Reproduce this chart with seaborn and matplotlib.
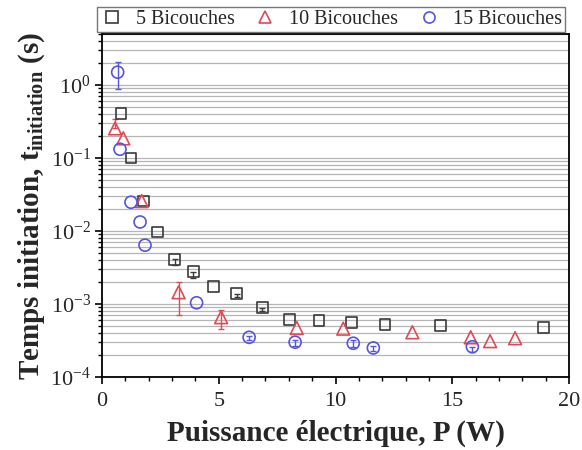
import numpy as np
import matplotlib
matplotlib.use("Agg")
import matplotlib.pyplot as plt
import seaborn as sns
from matplotlib.lines import Line2D
from matplotlib.ticker import LogLocator, MultipleLocator, NullFormatter

# 5 Bicouches
p5 = [0.81, 1.24, 1.77, 2.38, 3.11, 3.91, 4.78, 5.77, 6.87, 8.02, 9.29, 10.69, 12.12, 14.48, 18.9]
t5 = [0.41, 0.10, 0.0257, 0.0097, 0.0041, 0.00276, 0.00174, 0.00138, 0.00089, 0.00062,
      0.00059, 0.00056, 0.00053, 0.00051, 0.00048]
t5_lo = [0.0, 0.0, 0.0, 0.0, 0.0007, 0.0005, 0.0, 0.00012, 0.00008, 0.0, 0.0, 0.0, 0.0, 0.0, 0.0]
t5_hi = [0.0, 0.0, 0.0, 0.0, 0.0, 0.0, 0.0, 0.0, 0.0, 0.0, 0.0, 0.0, 0.0, 0.0, 0.0]

# 10 Bicouches
p10 = [0.56, 0.91, 1.70, 3.28, 5.10, 8.34, 10.33, 13.29, 15.79, 16.62, 17.69]
t10 = [0.255, 0.186, 0.0257, 0.00145, 0.00066, 0.00047, 0.00046, 0.00041, 0.00035, 0.00031, 0.00034]
t10_lo = [0.0, 0.0, 0.0, 0.00075, 0.0002, 0.0, 0.0, 0.0, 0.0, 0.0, 0.0]
t10_hi = [0.085, 0.0, 0.0, 0.00057, 0.00017, 0.0, 0.0, 0.0, 0.0, 0.0, 0.0]

# 15 Bicouches
p15 = [0.67, 0.77, 1.24, 1.63, 1.84, 4.05, 6.30, 8.27, 10.76, 11.62, 15.86]
t15 = [1.5, 0.132, 0.0248, 0.0133, 0.0064, 0.00104, 0.00035, 0.00030, 0.00029, 0.00025, 0.00026]
t15_lo = [0.63, 0.0, 0.0, 0.0, 0.0, 0.0, 0.00003, 0.00003, 0.00003, 0.00002, 0.00004]
t15_hi = [0.6, 0.0, 0.0, 0.0, 0.0, 0.0, 0.00002, 0.00002, 0.00003, 0.00002, 0.0]

labels = ["5 Bicouches", "10 Bicouches", "15 Bicouches"]
colors = ["#3a3a3a", "#e04a55", "#5555dd"]
markers = ["s", "^", "o"]
sizes = [60, 85, 75]

sns.set_theme(style="white")
plt.rcParams["font.family"] = ["Liberation Serif", "DejaVu Serif"]
plt.rcParams["mathtext.fontset"] = "custom"
plt.rcParams["mathtext.rm"] = "Liberation Serif"
plt.rcParams["mathtext.it"] = "Liberation Serif:italic"
plt.rcParams["mathtext.bf"] = "Liberation Serif:bold"

fig = plt.figure(figsize=(5.82, 4.5), dpi=100)
ax = fig.add_axes([0.1753, 0.1622, 0.8024, 0.7622])

series = [(p5, t5, t5_lo, t5_hi), (p10, t10, t10_lo, t10_hi), (p15, t15, t15_lo, t15_hi)]
for (px, ty, lo, hi), lab, c, m, s in zip(series, labels, colors, markers, sizes):
    px_a, ty_a, lo_a, hi_a = map(np.asarray, (px, ty, lo, hi))
    # only points that actually have an error bar
    keep = (lo_a > 0) | (hi_a > 0)
    ax.errorbar(px_a[keep], ty_a[keep], yerr=[lo_a[keep], hi_a[keep]], fmt="none",
                ecolor=c, elinewidth=1.0, capsize=2.5, capthick=1.0, zorder=3)
    sns.scatterplot(x=px, y=ty, marker=m, s=s, color=c, ax=ax, zorder=4)
    coll = ax.collections[-1]
    coll.set_facecolor("none")
    coll.set_edgecolor(c)
    coll.set_linewidth(1.2)

ax.set_yscale("log")
ax.set_xlim(0, 20)
ax.set_ylim(1e-4, 5)
ax.xaxis.set_major_locator(MultipleLocator(5))
ax.xaxis.set_minor_locator(MultipleLocator(1))
ax.yaxis.set_major_locator(LogLocator(base=10))
ax.yaxis.set_minor_locator(LogLocator(base=10, subs=np.arange(2, 10)))
ax.yaxis.set_minor_formatter(NullFormatter())

ax.grid(True, which="both", axis="y", color="#b5b5b5", lw=0.9)
ax.grid(False, axis="x")
ax.set_axisbelow(True)

ax.tick_params(axis="both", which="major", direction="out", length=5, width=1.2,
               labelsize=16, color="black", pad=3, bottom=True, left=True)
ax.tick_params(axis="x", which="major", pad=6)
ax.tick_params(axis="both", which="minor", direction="out", length=3, width=1.0,
               color="black", bottom=True, left=True)
for sp in ax.spines.values():
    sp.set_color("black")
    sp.set_linewidth(1.3)

ax.set_xlabel("Puissance électrique, P (W)", fontsize=21, fontweight="bold", labelpad=6)
ax.set_ylabel(r"Temps initiation, t$_{\mathbf{initiation}}$ (s)", fontsize=21,
              fontweight="bold", labelpad=2)

handles = [Line2D([], [], marker=m, ls="none", mfc="none", mec=c, mew=1.2, ms=8)
           for m, c in zip(markers, colors)]
leg = ax.legend(handles, labels, ncol=3, loc="lower center", bbox_to_anchor=(0.49, 1.0),
                frameon=True, fancybox=False, fontsize=14.5, borderpad=0.15,
                handletextpad=0.6, columnspacing=0.9, handlelength=1.2,
                borderaxespad=0.1)
leg.get_frame().set_edgecolor("#555555")
leg.get_frame().set_linewidth(1.0)

fig.savefig("out.png", dpi=100)
